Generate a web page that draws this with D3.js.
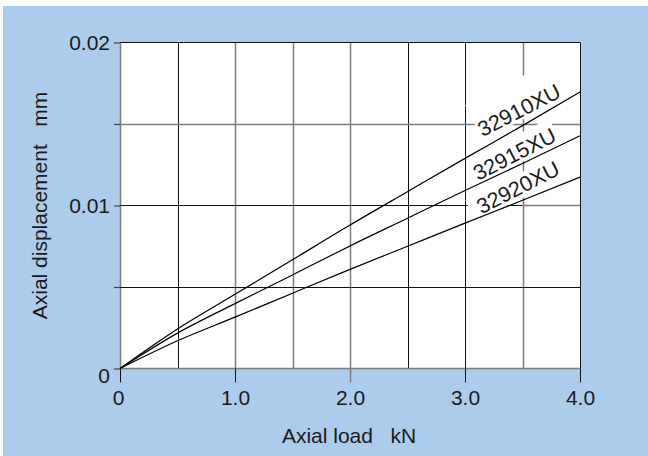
<!DOCTYPE html>
<html>
<head>
<meta charset="utf-8">
<script src="https://cdn.jsdelivr.net/npm/d3@7/dist/d3.min.js"></script>
<style>
  html, body { margin: 0; padding: 0; background: #ffffff; }
  svg { display: block; }
  text { font-family: "Liberation Sans", Arial, Helvetica, sans-serif; fill: #1a1a1a; }
</style>
</head>
<body>
<svg id="chart" width="648" height="456"></svg>
<script>
// ---------------- data ----------------
const loads = [0, 0.5, 1.0, 1.5, 2.0, 2.5, 3.0, 3.5, 4.0];           // kN
const disp32910 = [0, 0.00242, 0.00455, 0.00667, 0.00880, 0.01085, 0.01289, 0.01490, 0.01696]; // mm
const disp32915 = [0, 0.00217, 0.00398, 0.00574, 0.00752, 0.00922, 0.01092, 0.01258, 0.01428];
const disp32920 = [0, 0.00170, 0.00315, 0.00462, 0.00608, 0.00750, 0.00892, 0.01032, 0.01174];
const seriesNames = ["32910XU", "32915XU", "32920XU"];
const xTickValues = [0, 1.0, 2.0, 3.0, 4.0];
const xTickLabels = ["0", "1.0", "2.0", "3.0", "4.0"];
const yTickValues = [0, 0.005, 0.01, 0.015, 0.02];
const yTickLabels = ["0", "", "0.01", "", "0.02"];
const xGridValues = [0, 0.5, 1.0, 1.5, 2.0, 2.5, 3.0, 3.5, 4.0];
const yGridValues = [0, 0.005, 0.01, 0.015, 0.02];
const xTitle = "Axial load   kN";
const yTitle = "Axial displacement   mm";

// ---------------- layout / style ----------------
const W = 648, H = 456;
const plot = { left: 120, right: 580, top: 42.5, bottom: 368.5 };
const BLUE = "#abcdeb";
const DARK = "#111111", GRAY = "#7d7d7d";
const xGridStyle = ["g", "d", "g", "g", "g", "d", "d", "g", "d"];
const yGridStyle = ["g", "d", "d", "g", "d"];
const labelPlace = [
  { x: 3.47, y: 0.01585, padTop: 21, padBottom: 2.5, padLeft: 1 },
  { x: 3.43, y: 0.01316, padTop: 8, padBottom: 3, padLeft: 1 },
  { x: 3.46, y: 0.01111, padTop: 4, padBottom: 4, padLeft: 8 }
];
const labelAngle = -27;
const labelFont = 21.5, tickFont = 21, titleFont = 21;

const svg = d3.select("#chart");
const x = d3.scaleLinear().domain([0, 4]).range([plot.left, plot.right]);
const y = d3.scaleLinear().domain([0, 0.02]).range([plot.bottom, plot.top]);

// background
svg.append("rect").attr("x", 3).attr("y", 6).attr("width", W - 3).attr("height", H - 6).attr("fill", BLUE);
svg.append("rect").attr("x", plot.left).attr("y", plot.top)
  .attr("width", plot.right - plot.left).attr("height", plot.bottom - plot.top).attr("fill", "#fff");

const sx = v => Math.round(x(v)) + 0.5;
const sy = v => Math.round(y(v) - 0.5) + 0.5;

// grid
const grid = svg.append("g");
xGridValues.forEach((v, i) => {
  const dark = xGridStyle[i] === "d";
  grid.append("line")
    .attr("x1", sx(v)).attr("x2", sx(v))
    .attr("y1", plot.top).attr("y2", plot.bottom)
    .attr("stroke", dark ? DARK : GRAY).attr("stroke-width", dark ? 1 : 1.5);
});
yGridValues.forEach((v, i) => {
  const dark = yGridStyle[i] === "d";
  grid.append("line")
    .attr("x1", plot.left).attr("x2", plot.right)
    .attr("y1", sy(v)).attr("y2", sy(v))
    .attr("stroke", dark ? DARK : GRAY).attr("stroke-width", dark ? 1 : 1.5);
});
// right-hand part of the 0.01 gridline is grey
grid.append("line")
  .attr("x1", x(3.5)).attr("x2", plot.right)
  .attr("y1", sy(0.01)).attr("y2", sy(0.01))
  .attr("stroke", "#ffffff").attr("stroke-width", 1.2);
grid.append("line")
  .attr("x1", x(3.5)).attr("x2", plot.right)
  .attr("y1", sy(0.01)).attr("y2", sy(0.01))
  .attr("stroke", GRAY).attr("stroke-width", 1.5);

// x ticks (below axis)
const xAxis = d3.axisBottom(x).tickValues(xTickValues).tickSize(14).tickPadding(8)
  .tickFormat((d, i) => xTickLabels[i]);
const gx = svg.append("g").attr("transform", `translate(0,${plot.bottom})`).call(xAxis);
gx.select(".domain").remove();
gx.selectAll(".tick line").attr("stroke", (d, i) => i === 2 ? GRAY : DARK).attr("stroke-width", (d, i) => i === 2 ? 1.5 : 1);
gx.selectAll(".tick text").attr("font-size", tickFont).attr("fill", "#1a1a1a")
  .attr("font-family", "Liberation Sans, Arial, sans-serif")
  .attr("dx", (d, i) => i === 0 ? -2 : 0);

// y ticks (left of axis)
const yAxis = d3.axisLeft(y).tickValues(yTickValues).tickSize(6).tickPadding(4)
  .tickFormat((d, i) => yTickLabels[i]);
const gy = svg.append("g").attr("transform", `translate(${plot.left},0)`).call(yAxis);
gy.select(".domain").remove();
gy.selectAll(".tick line").attr("stroke", "#444").attr("stroke-width", 1.2);
gy.selectAll(".tick text").attr("font-size", tickFont).attr("fill", "#1a1a1a")
  .attr("font-family", "Liberation Sans, Arial, sans-serif")
  .attr("dy", (d, i) => i === 0 ? "0.66em" : "0.32em");

// label masks + curves + labels
const series = [disp32910, disp32915, disp32920];
const line = d3.line().x((d, i) => x(loads[i])).y(d => y(d)).curve(d3.curveMonotoneX);

const maskG = svg.append("g");
const curveG = svg.append("g");
const labelG = svg.append("g");

series.forEach((vals) => {
  curveG.append("path").datum(vals).attr("d", line)
    .attr("fill", "none").attr("stroke", "#000").attr("stroke-width", 1.2);
});

seriesNames.forEach((name, k) => {
  const p = labelPlace[k];
  const cx = x(p.x), cy = y(p.y);
  const t = labelG.append("text")
    .attr("transform", `translate(${cx},${cy}) rotate(${labelAngle})`)
    .attr("text-anchor", "middle").attr("dy", "0.35em")
    .attr("font-size", labelFont).text(name);
  const w = t.node().getComputedTextLength();
  const base = 0.35 * labelFont, capTop = base - 0.716 * labelFont;
  maskG.append("rect")
    .attr("transform", `translate(${cx},${cy}) rotate(${labelAngle})`)
    .attr("x", -w / 2 - p.padLeft).attr("y", capTop - p.padTop)
    .attr("width", w + p.padLeft + 2).attr("height", base + p.padBottom - (capTop - p.padTop))
    .attr("fill", "#fff");
});

// axis titles
svg.append("text").attr("x", 349).attr("y", 443).attr("text-anchor", "middle")
  .attr("font-size", titleFont).style("white-space", "pre").text(xTitle);
svg.append("text").attr("transform", `translate(47,${(plot.top + plot.bottom) / 2}) rotate(-90)`)
  .attr("text-anchor", "middle").attr("font-size", titleFont).style("white-space", "pre").text(yTitle);
</script>
</body>
</html>
